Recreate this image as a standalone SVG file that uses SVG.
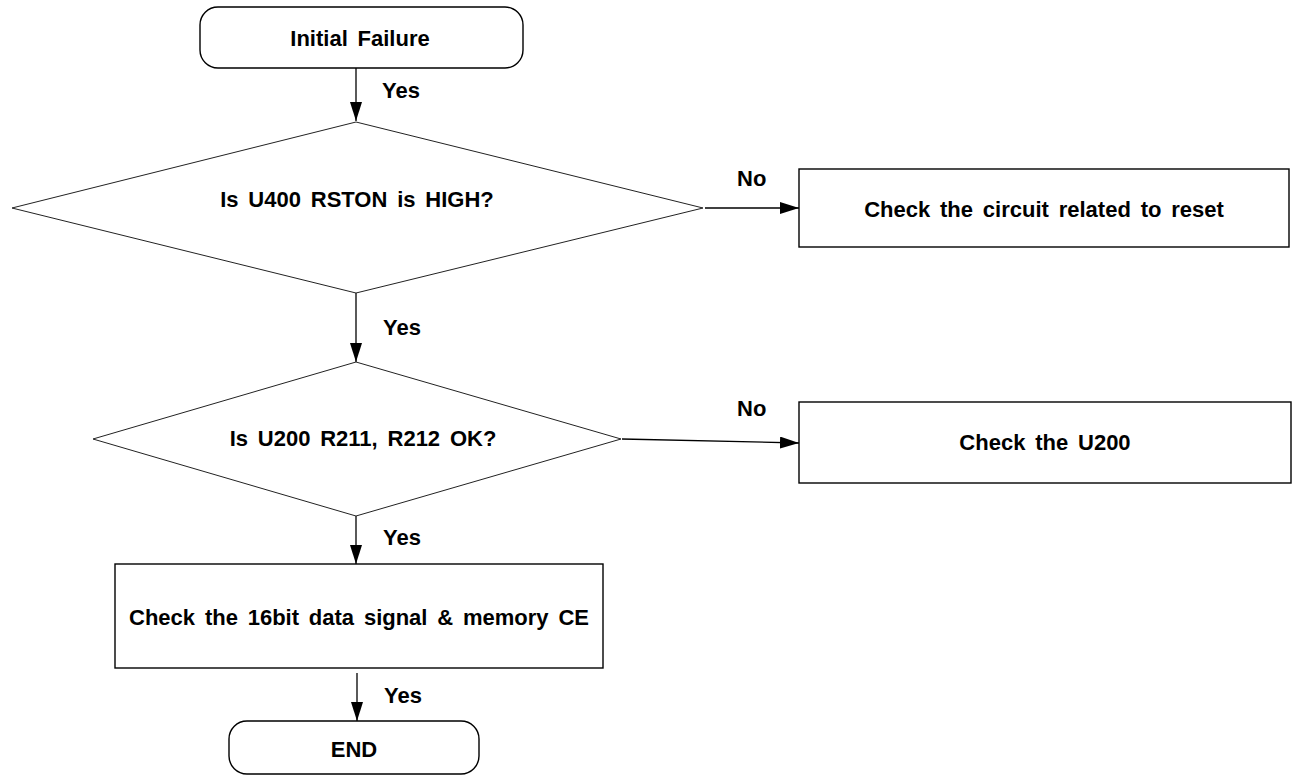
<svg xmlns="http://www.w3.org/2000/svg" width="1293" height="776" viewBox="0 0 1293 776">
  <defs>
    <marker id="arr" markerUnits="userSpaceOnUse" markerWidth="20" markerHeight="12" refX="19" refY="6" orient="auto">
      <path d="M0,0 L19,6 L0,12 Z" fill="#000"/>
    </marker>
    <style>
      .box { fill: #fff; stroke: #000; stroke-width: 1.4; }
      .dia { fill: #fff; stroke: #222; stroke-width: 1; }
      .t { font-family: "Liberation Sans", Arial, sans-serif; font-weight: bold; font-size: 22px; fill: #000; word-spacing: 3.7px; }
      .c { text-anchor: middle; }
      .line { stroke: #000; stroke-width: 1.3; fill: none; marker-end: url(#arr); }
    </style>
  </defs>
  <rect width="1293" height="776" fill="#fff"/>

  <g id="connectors">
    <line class="line" x1="356" y1="68" x2="356" y2="121"/>
    <line class="line" x1="356" y1="293" x2="356" y2="362"/>
    <line class="line" x1="356" y1="516" x2="356" y2="564"/>
    <line class="line" x1="357" y1="673" x2="357" y2="721"/>
    <line class="line" x1="705" y1="208" x2="799" y2="208"/>
    <line class="line" x1="622" y1="439" x2="799" y2="443"/>
    <text class="t" x="382" y="98">Yes</text>
    <text class="t" x="383" y="335">Yes</text>
    <text class="t" x="383" y="545">Yes</text>
    <text class="t" x="384" y="703">Yes</text>
    <text class="t" x="737" y="186">No</text>
    <text class="t" x="737" y="416">No</text>
  </g>

  <g id="start">
    <rect class="box" x="200" y="7" width="323" height="61" rx="18" ry="18"/>
    <text class="t c" x="360" y="46">Initial Failure</text>
  </g>

  <g id="decision1">
    <polygon class="dia" points="356,122 703,208 356,293 12,208"/>
    <text class="t c" x="357" y="207">Is U400 RSTON is HIGH?</text>
  </g>

  <g id="reset">
    <rect class="box" x="799" y="169" width="490" height="78"/>
    <text class="t c" x="1044" y="217">Check the circuit related to reset</text>
  </g>

  <g id="decision2">
    <polygon class="dia" points="356,362 621,439 356,516 93,439"/>
    <text class="t c" x="363" y="446">Is U200 R211, R212 OK?</text>
  </g>

  <g id="u200">
    <rect class="box" x="799" y="402" width="492" height="81"/>
    <text class="t c" x="1045" y="450">Check the U200</text>
  </g>

  <g id="datasignal">
    <rect class="box" x="115" y="564" width="488" height="104"/>
    <text class="t c" x="359" y="625">Check the 16bit data signal &amp; memory CE</text>
  </g>

  <g id="end">
    <rect class="box" x="229" y="721" width="250" height="53" rx="18" ry="18"/>
    <text class="t c" x="354" y="757">END</text>
  </g>
</svg>
